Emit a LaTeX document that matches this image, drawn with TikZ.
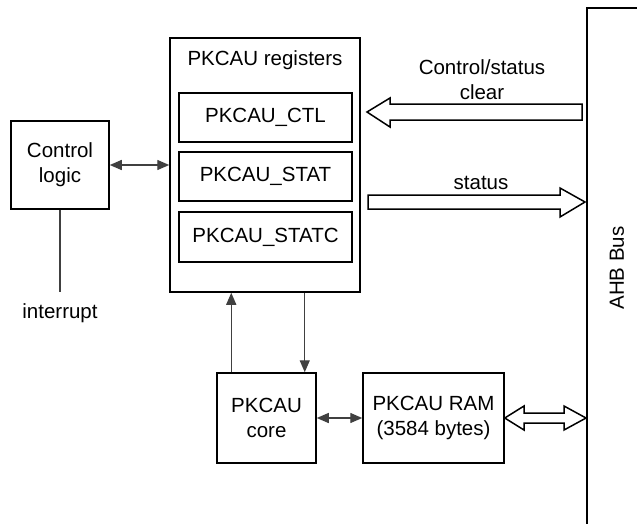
\documentclass[tikz,border=0pt]{standalone}
\usepackage{fontspec}
\setmainfont{Liberation Sans}
\usetikzlibrary{arrows.meta}
\begin{document}
\begin{tikzpicture}[x=1pt,y=-1pt,
  txt/.style={font=\fontsize{20.5pt}{25pt}\selectfont, text=black},
  box/.style={draw=black, line width=1.5pt, rectangle, inner sep=0pt, txt, align=center},
  conn/.style={draw=black!75, line width=1.4pt},
  tip/.style={-{Triangle[length=12pt,width=10pt]}},
  tips/.style={{Triangle[length=12pt,width=10pt]}-{Triangle[length=12pt,width=10pt]}},
  hollow/.style={draw=black, line width=1.5pt, fill=white, line join=miter}
]
\useasboundingbox (0,0) rectangle (637,523);
\clip (0,0) rectangle (637,523);
% AHB bus
\node[draw=black, line width=2pt, rectangle, minimum width=80pt, minimum height=540pt, anchor=north west, inner sep=0pt] (bus) at (586,7) {};
\node[txt, rotate=90] (busl) at (617,268) {AHB Bus};
% registers
\node[box, minimum width=190pt, minimum height=254pt] (reg) at (265,165) {};
\node[txt] (regl) at (265,60) {PKCAU registers};
\node[box, minimum width=173pt, minimum height=49pt] (ctl) at (265.5,117.5) {PKCAU\_CTL};
\node[box, minimum width=173pt, minimum height=49pt] (stat) at (265.5,176.5) {PKCAU\_STAT};
\node[box, minimum width=173pt, minimum height=50pt] (statc) at (265.5,237) {PKCAU\_STATC};
% control logic
\node[box, minimum width=98pt, minimum height=88pt] (cl) at (60,165) {Control\\logic};
\node[txt] (intr) at (60,313) {interrupt};
\coordinate (intrtop) at (60,292);
% core and RAM
\node[box, minimum width=99pt, minimum height=90pt] (core) at (266.5,418) {PKCAU\\core};
\node[box, minimum width=141pt, minimum height=90pt] (ram) at (433.5,418) {PKCAU RAM\\(3584 bytes)};
% connectors
\draw[conn, tips] (cl.east) -- (cl.east -| reg.west);
\draw[conn] (cl.south) -- (intrtop);
\draw[conn, tip] ([xshift=15pt]core.north west) -- ([xshift=15pt]core.north west |- reg.south);
\draw[conn, tip] ([xshift=-12pt]core.north east |- reg.south) -- ([xshift=-12pt]core.north east);
\draw[conn, tips] (core.east) -- (ram.west);
% hollow arrows
\draw[hollow] (367,112) -- (390,98) -- (390,104) -- (582,104) -- (582,120) -- (390,120) -- (390,127) -- cycle;
\node[txt, align=center] (cslbl) at (482,80) {Control/status\\clear};
\draw[hollow] (585,202) -- (560,188) -- (560,195) -- (368,195) -- (368,209) -- (560,209) -- (560,217) -- cycle;
\node[txt] (stlbl) at (481,183) {status};
\draw[hollow] (ram.east) -- (524,406) -- (524,413) -- (564,413) -- (564,406) -- (bus.west |- ram.east) -- (564,430) -- (564,423) -- (524,423) -- (524,430) -- cycle;
\end{tikzpicture}
\end{document}
